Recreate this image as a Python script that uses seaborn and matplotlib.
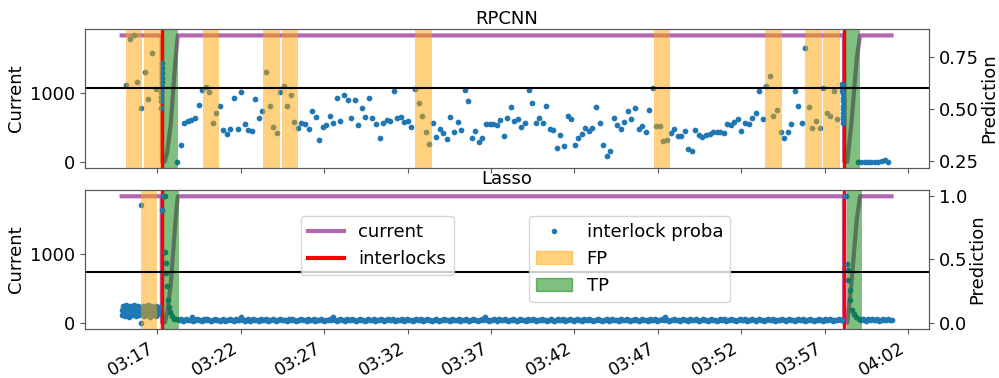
import pandas as pd
import matplotlib
matplotlib.use("Agg")
import matplotlib.pyplot as plt
import matplotlib.dates as mdates
from matplotlib.lines import Line2D
from matplotlib.patches import Patch
from matplotlib.ticker import MultipleLocator
import seaborn as sns

DAY = "2021-01-01 "

# beam current, same trace in both panels
current_times = ["03:14:52", "03:17:16", "03:17:17", "03:17:27", "03:17:36", "03:17:48", "03:17:57",
                 "03:18:06", "03:18:14", "03:58:09", "03:58:10", "03:58:21", "03:58:35", "03:58:45",
                 "03:58:55", "03:59:07", "04:01:00"]
current_vals = [1840, 1840, 0, 0, 145, 530, 1015, 1500, 1840, 1840, 0, 0, 530, 1015, 1500, 1840, 1840]
interlock_times = ["03:17:16", "03:58:09"]

# RPCNN interlock probability
rp_a = [0.615, 0.835, 0.854, 0.627, 0.506, 0.676, 0.546, 0.771, 0.598]
rp_stack1 = [0.502, 0.538, 0.555, 0.579, 0.603, 0.627, 0.651, 0.675, 0.699, 0.723]
rp_b = [0.245, 0.327, 0.434, 0.44, 0.447, 0.455, 0.519, 0.59, 0.606, 0.579,
        0.433, 0.479, 0.514, 0.40, 0.378, 0.402, 0.553, 0.402,
        0.579, 0.425, 0.397, 0.391, 0.546, 0.457, 0.489, 0.676, 0.513, 0.412,
        0.381, 0.582, 0.609, 0.513, 0.569, 0.436, 0.407, 0.431, 0.425, 0.402,
        0.489, 0.462, 0.349, 0.413, 0.421, 0.466, 0.433, 0.554, 0.442, 0.566,
        0.542, 0.457, 0.543, 0.421,
        0.506, 0.462, 0.554, 0.458, 0.429, 0.357, 0.433, 0.444, 0.439, 0.587,
        0.455, 0.462, 0.438, 0.441, 0.413, 0.598, 0.53, 0.466, 0.386, 0.329,
        0.434, 0.364, 0.405, 0.383, 0.354, 0.462, 0.389, 0.438, 0.396, 0.591,
        0.54, 0.359, 0.393, 0.338, 0.357,
        0.429, 0.426, 0.425, 0.421, 0.447, 0.367, 0.457, 0.511, 0.439, 0.452,
        0.412, 0.433, 0.59, 0.529, 0.431, 0.455, 0.433, 0.514, 0.404, 0.397,
        0.309, 0.375, 0.319, 0.466, 0.45, 0.327, 0.359, 0.38, 0.409, 0.394,
        0.409, 0.508, 0.434, 0.325, 0.274, 0.296,
        0.455, 0.423, 0.401, 0.436, 0.49, 0.45, 0.502, 0.404, 0.418, 0.388,
        0.495, 0.601, 0.415, 0.418, 0.346, 0.349, 0.381, 0.404, 0.369, 0.37,
        0.391, 0.304, 0.298, 0.397, 0.372, 0.362, 0.372, 0.38, 0.386, 0.386,
        0.386, 0.383, 0.429, 0.423, 0.436,
        0.452, 0.394, 0.431, 0.429, 0.454, 0.482, 0.588, 0.45, 0.611, 0.659,
        0.466, 0.494, 0.386, 0.361, 0.386, 0.426, 0.587, 0.514, 0.434, 0.793,
        0.51, 0.407, 0.439, 0.409, 0.599, 0.478, 0.465, 0.588, 0.449]
rp_stack2 = [0.619, 0.603, 0.587, 0.571, 0.554, 0.538, 0.514, 0.498, 0.482, 0.466, 0.450, 0.434]
rp_c = [0.245, 0.245, 0.245, 0.245, 0.245, 0.245, 0.245, 0.25, 0.255, 0.245]

# Lasso interlock probability
la_a = [0.10, 0.06, 0.13, 0.08, 0.11, 0.05, 0.14, 0.09, 0.07, 0.12,
        0.10, 0.04, 0.13, 0.08, 0.11, 0.06, 0.12, 0.09, 0.14, 0.07,
        0.10, 0.05, 0.12, 0.08, 0.13, 0.06, 0.11, 0.09, 0.00, 0.93,
        0.10, 0.07, 0.13, 0.05, 0.11, 0.08, 0.12, 0.06, 0.14, 0.09,
        0.07, 0.11, 0.04, 0.13, 0.08, 0.10, 0.06, 0.12, 0.09, 0.11,
        0.05, 0.13, 0.08, 0.10, 0.07, 0.12]
la_il1_times = ["03:17:17", "03:17:19", "03:17:27", "03:17:29", "03:17:31", "03:17:33", "03:17:35",
                "03:17:39", "03:17:43", "03:17:47", "03:17:53", "03:18:01", "03:18:11"]
la_il1 = [0.89, 1.0, 1.0, 0.56, 0.47, 0.39, 0.29, 0.18, 0.12, 0.08, 0.05, 0.03, 0.03]
la_b = [2, 3, 1, 2, 3, 2, 2, 4, 1, 2, 3, 2, 2, 1, 3, 2, 3, 2, 1, 2,
        3, 2, 2, 1, 2, 3, 1, 2, 2, 3, 2, 1, 3, 2, 2, 4, 2, 1, 2, 3,
        1, 2, 3, 2, 2, 1, 3, 2, 2, 3, 1, 2, 2, 3, 2, 1, 2, 3, 2, 2,
        2, 1, 3, 2, 3, 2, 1, 2, 2, 3, 2, 2, 1, 3, 2, 2, 3, 1, 2, 2,
        3, 2, 1, 2, 2, 3, 2, 4, 2, 1, 2, 3, 2, 2, 1, 3, 2, 2, 3, 2,
        1, 2, 3, 2, 2, 1, 2, 3, 2, 2, 3, 1, 2, 2, 3, 2, 1, 2, 3, 2,
        2, 3, 1, 2, 2, 2, 3, 1, 2, 3, 2, 2, 1, 2, 3, 2, 2, 3, 1, 2,
        3, 2, 2, 1, 2, 3, 2, 1, 2, 2, 3, 2, 2, 1, 3, 2, 2, 2, 3, 1,
        2, 2, 3, 2, 1, 2, 3, 2, 2, 1, 2, 3, 2, 4, 2, 1, 2, 2, 3, 2,
        1, 3, 2, 2, 3, 2, 1, 2, 2, 3, 2, 1, 2, 3, 2, 2, 1, 3, 2, 2,
        3, 2, 1, 2, 2, 3, 2, 2, 1, 2, 3, 2, 1, 2, 3, 2, 2, 3, 1, 2,
        2, 3, 2, 1, 2, 3, 2, 2, 1, 3, 2, 2, 3, 2, 1, 2, 2, 3, 2, 1,
        2, 2, 3, 1, 2, 3, 2, 2, 2, 1, 3, 2, 2, 3, 2, 1, 2, 2, 3, 2,
        1, 2, 3, 2, 2, 1, 3, 2, 2, 3, 1, 2, 2, 3, 2, 4, 2, 1, 2, 2,
        3, 2, 2, 1, 2, 3, 2, 2, 1, 3, 2, 2, 3, 2, 1, 2, 3, 2, 2, 1,
        2, 3, 2, 2, 1, 2, 3, 2, 3, 1, 2, 2, 3, 2, 2, 1, 2, 3, 2, 2,
        3, 1, 2, 2, 3, 2, 1, 2, 3, 2, 2, 1, 2, 3, 2, 2, 3, 1, 2, 2,
        2, 3, 2, 1, 2, 3, 2, 2, 1, 2, 3, 2, 2, 3, 1, 2, 2, 3, 2, 1,
        2, 2, 3, 2, 1, 3, 2, 2, 3, 2, 1, 2, 2, 3, 2, 2]  # hundredths
la_il2_times = ["03:58:14", "03:58:17", "03:58:20", "03:58:23", "03:58:25", "03:58:29",
                "03:58:32", "03:58:37", "03:58:44", "03:58:52", "03:59:04"]
la_il2 = [1.0, 1.0, 0.465, 0.42, 0.34, 0.26, 0.18, 0.10, 0.07, 0.04, 0.03]
la_c = [0.02, 0.03, 0.02, 0.01, 0.03, 0.02, 0.03, 0.02, 0.02, 0.03, 0.01, 0.02,
        0.03, 0.02, 0.02, 0.03, 0.02, 0.02]

# FP / TP windows
rp_fp = [("03:15:09", "03:16:06"), ("03:16:13", "03:17:12"), ("03:19:43", "03:20:41"),
         ("03:23:22", "03:24:23"), ("03:24:27", "03:25:26"), ("03:32:28", "03:33:27"),
         ("03:46:45", "03:47:43"), ("03:53:25", "03:54:25"), ("03:55:49", "03:56:49"),
         ("03:56:53", "03:57:55")]
rp_tp = [("03:17:24", "03:18:14"), ("03:58:18", "03:59:05")]
la_fp = [("03:16:00", "03:17:00")]
la_tp = [("03:17:24", "03:18:19"), ("03:58:21", "03:59:15")]
thresholds = {"RPCNN": 0.6, "Lasso": 0.4}


def ts(s):
    return pd.Timestamp(DAY + s)


def segment(start, end, vals):
    return pd.DataFrame({"time": pd.date_range(ts(start), ts(end), periods=len(vals)), "proba": vals})


def points(times, vals):
    return pd.DataFrame({"time": [ts(t) for t in times], "proba": vals})


rp = pd.concat([segment("03:15:09", "03:16:54", rp_a),
                segment("03:17:14", "03:17:18", rp_stack1),
                segment("03:18:12", "03:57:45", rp_b),
                segment("03:58:03", "03:58:07", rp_stack2),
                segment("03:58:59", "04:00:49", rp_c)])
la = pd.concat([segment("03:14:52", "03:17:07", la_a),
                points(la_il1_times, la_il1),
                segment("03:18:19", "03:58:03", [v / 100 for v in la_b]),
                points(la_il2_times, la_il2),
                segment("03:59:10", "04:01:00", la_c)])
cur = pd.DataFrame({"time": [ts(t) for t in current_times], "current": current_vals})

plt.rcParams["font.size"] = 13
plt.rcParams["axes.edgecolor"] = "0.35"
plt.rcParams["xtick.color"] = "0.35"
plt.rcParams["ytick.color"] = "0.35"
plt.rcParams["xtick.labelcolor"] = "black"
plt.rcParams["ytick.labelcolor"] = "black"
fig, axes = plt.subplots(2, 1, sharex=True, figsize=(9.99, 3.78), dpi=100)
fig.subplots_adjust(left=0.085, right=0.93, top=0.923, bottom=0.13, hspace=0.158)

panels = [("RPCNN", rp, rp_fp, rp_tp), ("Lasso", la, la_fp, la_tp)]
for ax, (name, df, fp, tp) in zip(axes, panels):
    sns.lineplot(data=cur, x="time", y="current", ax=ax, color="purple", alpha=0.6,
                 lw=3, sort=False, estimator=None)
    for t in interlock_times:
        ax.axvline(ts(t), color="red", lw=2.5)
    ax.set_ylabel("Current")
    ax.set_xlabel("")
    ax.yaxis.set_major_locator(MultipleLocator(1000))
    ax.set_title(name, fontsize=13, pad=4)

    ax2 = ax.twinx()
    sns.scatterplot(data=df, x="time", y="proba", ax=ax2, s=17, linewidth=0, color="C0")
    for a, b in fp:
        ax2.axvspan(ts(a), ts(b), color="orange", alpha=0.5, lw=0)
    for a, b in tp:
        ax2.axvspan(ts(a), ts(b), color="green", alpha=0.5, lw=0)
    ax2.axhline(thresholds[name], color="black", lw=1.5)
    ax2.set_ylabel("Prediction", labelpad=1)
    ax2.set_xlabel("")
    ax2.yaxis.set_major_locator(MultipleLocator(0.25 if name == "RPCNN" else 0.5))

    if name == "Lasso":
        h1 = [Line2D([], [], color="purple", alpha=0.6, lw=3),
              Line2D([], [], color="red", lw=3)]
        h2 = [Line2D([], [], marker="o", ls="none", color="C0", markersize=3),
              Patch(color="orange", alpha=0.5), Patch(color="green", alpha=0.5)]
        leg1 = ax2.legend(h1, ["current", "interlocks"], loc="upper left",
                          bbox_to_anchor=(0.2556, 0.814), borderaxespad=0, fontsize=13)
        ax2.add_artist(leg1)
        ax2.legend(h2, ["interlock proba", "FP", "TP"], loc="upper left",
                   bbox_to_anchor=(0.526, 0.814), borderaxespad=0, fontsize=13)

axes[1].set_xlim(ts("03:12:40"), ts("04:03:15"))
axes[1].xaxis.set_major_locator(mdates.MinuteLocator(byminute=range(2, 60, 5)))
axes[1].xaxis.set_major_formatter(mdates.DateFormatter("%H:%M"))
plt.setp(axes[1].get_xticklabels(), rotation=30, ha="right", fontsize=12.5)
plt.setp(axes[0].get_xticklabels(), visible=False)

fig.savefig("out.png", dpi=100)
